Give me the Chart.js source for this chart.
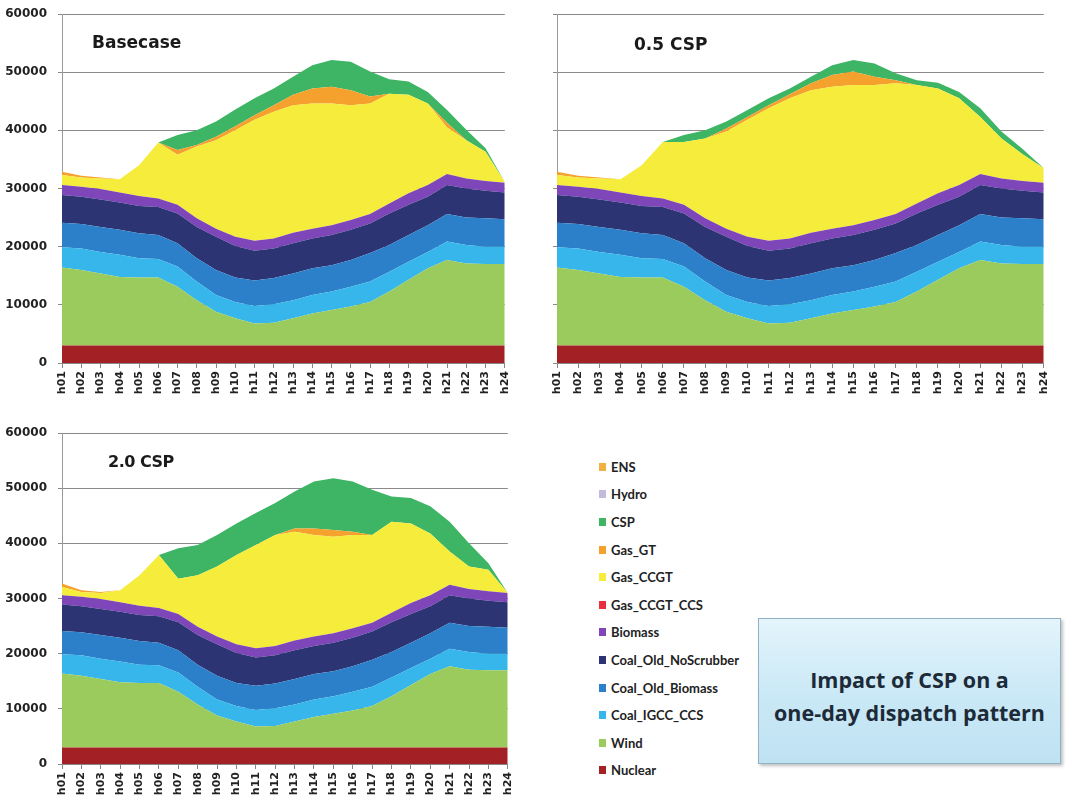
<!DOCTYPE html>
<html><head><meta charset="utf-8">
<script src="https://cdn.jsdelivr.net/npm/chart.js@4.4.0/dist/chart.umd.min.js"></script>
<style>
body{margin:0;background:#fff;width:1086px;height:805px;position:relative;overflow:hidden;font-family:"DejaVu Sans",sans-serif;}
canvas{position:absolute;}
.title{position:absolute;font-weight:bold;color:#1a1a1a;white-space:nowrap;line-height:1;}
#legend{position:absolute;left:599px;top:453px;}
.li{height:27.6px;display:flex;align-items:center;font:bold 13px "Lato",sans-serif;color:#222;}
.sw{width:7px;height:8px;margin-right:5px;}
#box{position:absolute;left:758px;top:618px;width:301px;height:144px;border:1.5px solid #8fb3c4;
 background:linear-gradient(#e4f4fb,#cbe9f6 50%,#bfe2f3);box-shadow:2px 2px 3px rgba(0,0,0,0.25);
 font:bold 21.5px "Open Sans",sans-serif;color:#1d2a38;text-align:center;}
#box div{position:absolute;left:0;right:0;line-height:30px;}
</style></head><body>
<canvas id="c1" width="521" height="425" style="left:0;top:-20px"></canvas>
<canvas id="c2" width="520" height="425" style="left:540px;top:-20px"></canvas>
<canvas id="c3" width="524" height="400" style="left:0;top:405px"></canvas>
<div class="title" style="left:92px;top:34px;font-size:17px">Basecase</div>
<div class="title" style="left:634px;top:36px;font-size:17px">0.5 CSP</div>
<div class="title" style="left:108px;top:454px;font-size:16px;letter-spacing:-0.5px">2.0 CSP</div>
<div id="legend"></div>
<div id="box"><div style="top:46px">Impact of CSP on a</div><div style="top:79px">one-day dispatch pattern</div></div>
<script>
const hours = ['h01','h02','h03','h04','h05','h06','h07','h08','h09','h10','h11','h12','h13','h14','h15','h16','h17','h18','h19','h20','h21','h22','h23','h24'];
const yTicks = [0,10000,20000,30000,40000,50000,60000];

// common base layers (MW)
const nuclear       = [3000,3000,3000,3000,3000,3000,3000,3000,3000,3000,3000,3000,3000,3000,3000,3000,3000,3000,3000,3000,3000,3000,3000,3000];
const wind          = [13400,13000,12400,11800,11700,11700,10100,7800,5800,4700,3800,3900,4700,5500,6100,6700,7500,9300,11300,13300,14700,14100,14000,14000];
const coalIGCC      = [3500,3700,3700,3800,3300,3200,3500,3200,2900,2800,3000,3200,3100,3200,3200,3400,3500,3400,3100,2800,3200,3200,3000,3000];
const coalOldBio    = [4200,4200,4300,4300,4300,4100,4000,4000,4300,4200,4400,4500,4600,4600,4500,4600,4900,4600,4600,4600,4700,4700,4900,4700];
const coalNoScrub   = [4800,4700,4700,4700,4700,4800,5100,5400,5700,5400,5100,5100,5200,5100,5200,5200,5100,5400,5200,4900,5000,5000,4700,4600];
const biomass       = [1700,1700,1800,1700,1700,1500,1500,1500,1400,1600,1700,1700,1800,1700,1700,1700,1600,1700,2000,2000,1900,1700,1700,1700];
const gasCCGTCCS    = [0,0,0,0,0,0,0,0,0,0,0,0,0,0,0,0,0,0,0,0,0,0,0,0];
const hydro         = [0,0,0,0,0,0,0,0,0,0,0,0,0,0,0,0,0,0,0,0,0,0,0,0];
const ens           = [0,0,0,0,0,0,0,0,0,0,0,0,0,0,0,0,0,0,0,0,0,0,0,0];

// Basecase
const baseGasCCGT = [1700,1600,1800,2300,5300,9600,8600,12300,15200,18300,20800,21800,21900,21500,20900,19700,19000,18900,16900,14000,8000,6600,5000,100];
const baseGasGT   = [600,300,200,0,0,0,800,300,600,700,800,1100,1800,2600,2900,2600,1200,0,0,0,800,0,0,0];
const baseCSP     = [0,0,0,0,0,0,2600,2500,2600,2900,2900,2900,3100,4000,4600,4900,4300,2500,2300,2000,2200,1800,600,0];
// 0.5 CSP
const halfGasCCGT = [1700,1600,1800,2300,5300,9700,10800,13700,16700,20100,22800,24100,24500,24400,24100,23200,22500,20400,18000,14900,9800,6900,4600,2500];
const halfGasGT   = [600,300,200,0,0,0,0,0,500,500,500,700,1200,2000,2300,1400,500,0,0,0,0,0,0,0];
const halfCSP     = [0,0,0,0,0,0,1200,1400,1200,1200,1200,1000,1100,1700,2000,2300,1200,800,1000,1100,1500,1200,900,0];
// 2.0 CSP
const dblGasCCGT  = [1500,900,1100,2200,5500,9600,6400,9300,12700,16200,18700,20100,19700,18400,17500,16900,15900,16500,14400,11200,6000,4100,3900,0];
const dblGasGT    = [600,300,200,0,0,0,0,0,0,0,0,0,600,1200,1200,600,0,0,0,0,0,0,0,0];
const dblCSP      = [0,0,0,0,0,0,5500,5500,5700,5700,5800,5800,6700,8500,9400,9100,8200,4600,4600,4900,5400,4200,1200,0];

const names  = ['Nuclear','Wind','Coal_IGCC_CCS','Coal_Old_Biomass','Coal_Old_NoScrubber','Biomass','Gas_CCGT_CCS','Gas_CCGT','Gas_GT','CSP','Hydro','ENS'];
const colors = ['#a32125','#9bcb5c','#36b6ea','#2b80c9','#2c3474','#7f46b9','#e8303a','#f6ec3c','#f5a12e','#3db565','#c4badb','#f0b142'];

function datasets(gasCCGT, gasGT, csp){
  const vals=[nuclear,wind,coalIGCC,coalOldBio,coalNoScrub,biomass,gasCCGTCCS,gasCCGT,gasGT,csp,hydro,ens];
  return vals.map((v,i)=>({label:names[i],data:v,backgroundColor:colors[i],borderColor:colors[i],
    borderWidth:0,pointRadius:0,pointHoverRadius:0,tension:0.0,fill:i===0?'origin':'-1'}));
}

function makeChart(id, ds, opt){
  new Chart(document.getElementById(id),{
    type:'line',
    data:{labels:hours,datasets:ds},
    options:{
      responsive:false,animation:false,
      layout:{padding:{top:opt.top,right:opt.right,left:0,bottom:0}},
      plugins:{legend:{display:false},tooltip:{enabled:false}},
      scales:{
        x:{offset:false,
           grid:{display:true,drawOnChartArea:false,drawTicks:true,tickLength:5,color:'#868686'},
           border:{display:true,color:'#868686',width:1},
           ticks:{autoSkip:false,maxRotation:90,minRotation:90,padding:3,color:'#222',font:{family:'DejaVu Sans',size:11,weight:'bold'}},
           afterFit:(s)=>{s.height=opt.xh;}},
        y:{stacked:true,min:0,max:60000,
           afterBuildTicks:(s)=>{s.ticks=yTicks.map(v=>({value:v}));},
           grid:{color:'#8a8a8a',lineWidth:1,drawTicks:true,tickLength:4},
           border:{display:true,color:'#9a9a9a'},
           ticks:{display:opt.yLabels,padding:11,color:'#222',font:{family:'DejaVu Sans',size:12,weight:'bold'},
                  callback:(v)=>String(v)},
           afterFit:(s)=>{s.width=opt.yw;}}
      }
    }
  });
}

makeChart('c1', datasets(baseGasCCGT,baseGasGT,baseCSP), {top:34,right:11,xh:42,yw:62,yLabels:true});
makeChart('c2', datasets(halfGasCCGT,halfGasGT,halfCSP), {top:34,right:11,xh:42,yw:17,yLabels:false});
makeChart('c3', datasets(dblGasCCGT,dblGasGT,dblCSP), {top:28,right:11,xh:41,yw:62,yLabels:true});

// shared legend (top of stack first)
const lg=document.getElementById('legend');
for(let i=names.length-1;i>=0;i--){
  const d=document.createElement('div');d.className='li';
  d.innerHTML='<span class="sw" style="background:'+colors[i]+'"></span><span>'+names[i]+'</span>';
  lg.appendChild(d);
}
</script>
</body></html>
